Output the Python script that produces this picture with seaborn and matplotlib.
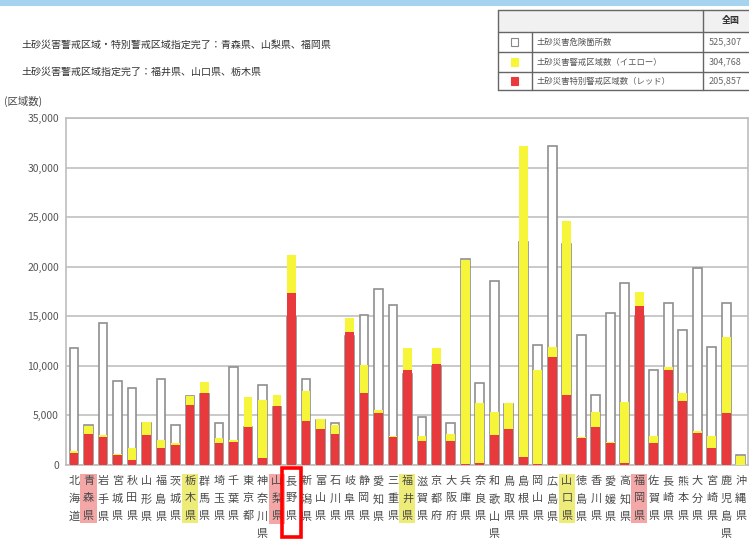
import matplotlib
matplotlib.use("Agg")
import matplotlib.pyplot as plt
import matplotlib.transforms as mtransforms
from matplotlib.patches import Rectangle
import pandas as pd
import seaborn as sns

# 都道府県（地方整備局順）
prefectures = [
    "北海道", "青森県", "岩手県", "宮城県", "秋田県", "山形県", "福島県",
    "茨城県", "栃木県", "群馬県", "埼玉県", "千葉県", "東京都", "神奈川県",
    "山梨県", "長野県", "新潟県", "富山県", "石川県", "岐阜県", "静岡県",
    "愛知県", "三重県", "福井県", "滋賀県", "京都府", "大阪府", "兵庫県",
    "奈良県", "和歌山県", "鳥取県", "島根県", "岡山県", "広島県", "山口県",
    "徳島県", "香川県", "愛媛県", "高知県", "福岡県", "佐賀県", "長崎県",
    "熊本県", "大分県", "宮崎県", "鹿児島県", "沖縄県",
]
# 土砂災害危険箇所数（白）
hazard_spots = [
    11800, 4050, 14280, 8500, 7730, 4200, 8670, 4030, 7000, 7200, 4270, 9850,
    3800, 8060, 5900, 14900, 8670, 4500, 4270, 13000, 15120, 17710, 16130,
    9200, 4870, 10000, 4270, 20800, 8230, 18580, 6200, 22500, 12100, 32200,
    22300, 13100, 7060, 15290, 18310, 15000, 9580, 16360, 13610, 19820, 11930,
    16300, 1000,
]
# 土砂災害警戒区域数（イエロー）
yellow_zones = [
    1400, 3950, 3000, 1100, 1680, 4350, 2520, 2200, 6950, 8400, 2690, 2500,
    6890, 6550, 7060, 21170, 7500, 4600, 4030, 14780, 10080, 5540, 2900,
    11760, 2900, 11760, 3120, 20700, 6220, 5380, 6220, 32130, 9580, 11930,
    24660, 2860, 5380, 2300, 6380, 17470, 2920, 9910, 7220, 3400, 2960,
    12940, 900,
]
# 土砂災害特別警戒区域数（レッド）
red_zones = [
    1200, 3150, 2860, 1000, 500, 3050, 1680, 2020, 6050, 7290, 2180, 2350,
    3860, 670, 5980, 17300, 4470, 3600, 3120, 13440, 7290, 5210, 2790,
    9580, 2450, 10180, 2450, 100, 200, 3020, 3600, 840, 100, 10920,
    7060, 2690, 3860, 2180, 200, 16030, 2180, 9580, 6480, 3260, 1680,
    5210, 0,
]
red_done = ["青森県", "山梨県", "福岡県"]
yellow_done = ["福井県", "山口県", "栃木県"]
boxed_pref = "長野県"
y_ticks = [0, 5000, 10000, 15000, 20000, 25000, 30000, 35000]

note_red = "土砂災害警戒区域・特別警戒区域指定完了：青森県、山梨県、福岡県"
note_yellow = "土砂災害警戒区域指定完了：福井県、山口県、栃木県"
legend_labels = ["土砂災害危険箇所数", "土砂災害警戒区域数（イエロー）", "土砂災害特別警戒区域数（レッド）"]
legend_totals = ["525,307", "304,768", "205,857"]

RED = "#e8393c"
YELLOW = "#f7f53a"
W, H = 749, 541

sns.set_style("white")
plt.rcParams["font.family"] = ["Noto Sans CJK JP", "DejaVu Sans"]

df = pd.DataFrame({"pref": prefectures, "hazard": hazard_spots,
                   "yellow": yellow_zones, "red": red_zones})

fig = plt.figure(figsize=(W / 100, H / 100), dpi=100)
ax = fig.add_axes([66 / W, (H - 465) / H, (748 - 66) / W, (465 - 118) / H])


def fx(x):
    return x / W


def fy(y):
    return 1 - y / H


# 棒（白 → 黄 → 赤 の順に重ねる）
layers = [("hazard", "white", "#8f8f8f", 1.2),
          ("yellow", YELLOW, "none", 0),
          ("red", RED, "none", 0)]
for z, (col, fc, ec, lw) in enumerate(layers):
    n0 = len(ax.patches)
    sns.barplot(data=df, x="pref", y=col, color=fc, edgecolor=ec, linewidth=lw,
                width=0.6, errorbar=None, saturation=1, ax=ax)
    for p in ax.patches[n0:]:
        p.set_zorder(2 + z)

ax.set_xlim(-0.55, 46.5)
ax.set_ylim(0, 35000)
ax.set_xlabel("")
ax.set_ylabel("")
ax.set_yticks(y_ticks)
ax.set_yticklabels([f"{v:,}" for v in y_ticks])
ax.yaxis.grid(True, color="#c9c9c9", linewidth=1.4)
ax.set_axisbelow(True)
for s in ax.spines.values():
    s.set_color("#bdbdbd")
    s.set_linewidth(1.2)
ax.tick_params(axis="y", length=0, labelsize=7.5, labelcolor="#555555", pad=5)
ax.tick_params(axis="x", length=0, pad=8)

ax.set_xticks(range(len(prefectures)))
ax.set_xticklabels(["\n".join(p) for p in prefectures], fontsize=8,
                   color="#4a4a4a", linespacing=1.9, va="top")
for lbl, name in zip(ax.get_xticklabels(), prefectures):
    if name in red_done:
        lbl.set_bbox(dict(facecolor="#f4a7a7", edgecolor="none", pad=1.8))
    elif name in yellow_done:
        lbl.set_bbox(dict(facecolor="#eeec78", edgecolor="none", pad=1.8))

# 長野県の赤枠
trans = mtransforms.blended_transform_factory(ax.transData, ax.transAxes)
bi = prefectures.index(boxed_pref)
ax.add_patch(Rectangle((bi - 0.62, -0.207), 1.3, 0.199, transform=trans,
                       fill=False, edgecolor="#ff0000", linewidth=2.6,
                       clip_on=False, zorder=10))

# 上部の帯
fig.patches.append(Rectangle((0, fy(6)), 1, 6 / H, transform=fig.transFigure,
                             facecolor="#a6d4ef", edgecolor="none"))

# 注記
fig.text(fx(22), fy(45), note_red, fontsize=7.2, color="#333333", va="center")
fig.text(fx(22), fy(72), note_yellow, fontsize=7.2, color="#333333", va="center")
fig.text(fx(4), fy(101), "(区域数)", fontsize=7.5, color="#444444", va="center")

# 凡例表
rows_y = [10, 32, 52, 72, 90]
fig.patches.append(Rectangle((fx(498), fy(32)), 1, 22 / H, transform=fig.transFigure,
                             facecolor="#f1f1f1", edgecolor="none"))
for y in rows_y:
    fig.add_artist(plt.Line2D([fx(498), 1], [fy(y), fy(y)], color="#666666",
                              linewidth=1.0, transform=fig.transFigure))
fig.add_artist(plt.Line2D([fx(498), fx(498)], [fy(10), fy(90)], color="#666666",
                          linewidth=1.0, transform=fig.transFigure))
fig.add_artist(plt.Line2D([fx(532), fx(532)], [fy(32), fy(90)], color="#666666",
                          linewidth=1.0, transform=fig.transFigure))
fig.add_artist(plt.Line2D([fx(703), fx(703)], [fy(10), fy(90)], color="#666666",
                          linewidth=1.0, transform=fig.transFigure))
fig.text(fx(722), fy(21), "全国", fontsize=6.5, color="#333333", va="center",
         fontweight="bold")
swatches = [("white", "#888888"), (YELLOW, YELLOW), (RED, RED)]
for i, (label, total, (fc, ec)) in enumerate(zip(legend_labels, legend_totals, swatches)):
    yc = (rows_y[i + 1] + rows_y[i + 2]) / 2
    fig.patches.append(Rectangle((fx(511), fy(yc + 3.5)), 7 / W, 7 / H,
                                 transform=fig.transFigure, facecolor=fc,
                                 edgecolor=ec, linewidth=0.8))
    fig.text(fx(537), fy(yc), label, fontsize=6, color="#555555", va="center")
    fig.text(fx(709), fy(yc), total, fontsize=6.5, color="#666666", va="center")

fig.savefig("out.png", dpi=100)
